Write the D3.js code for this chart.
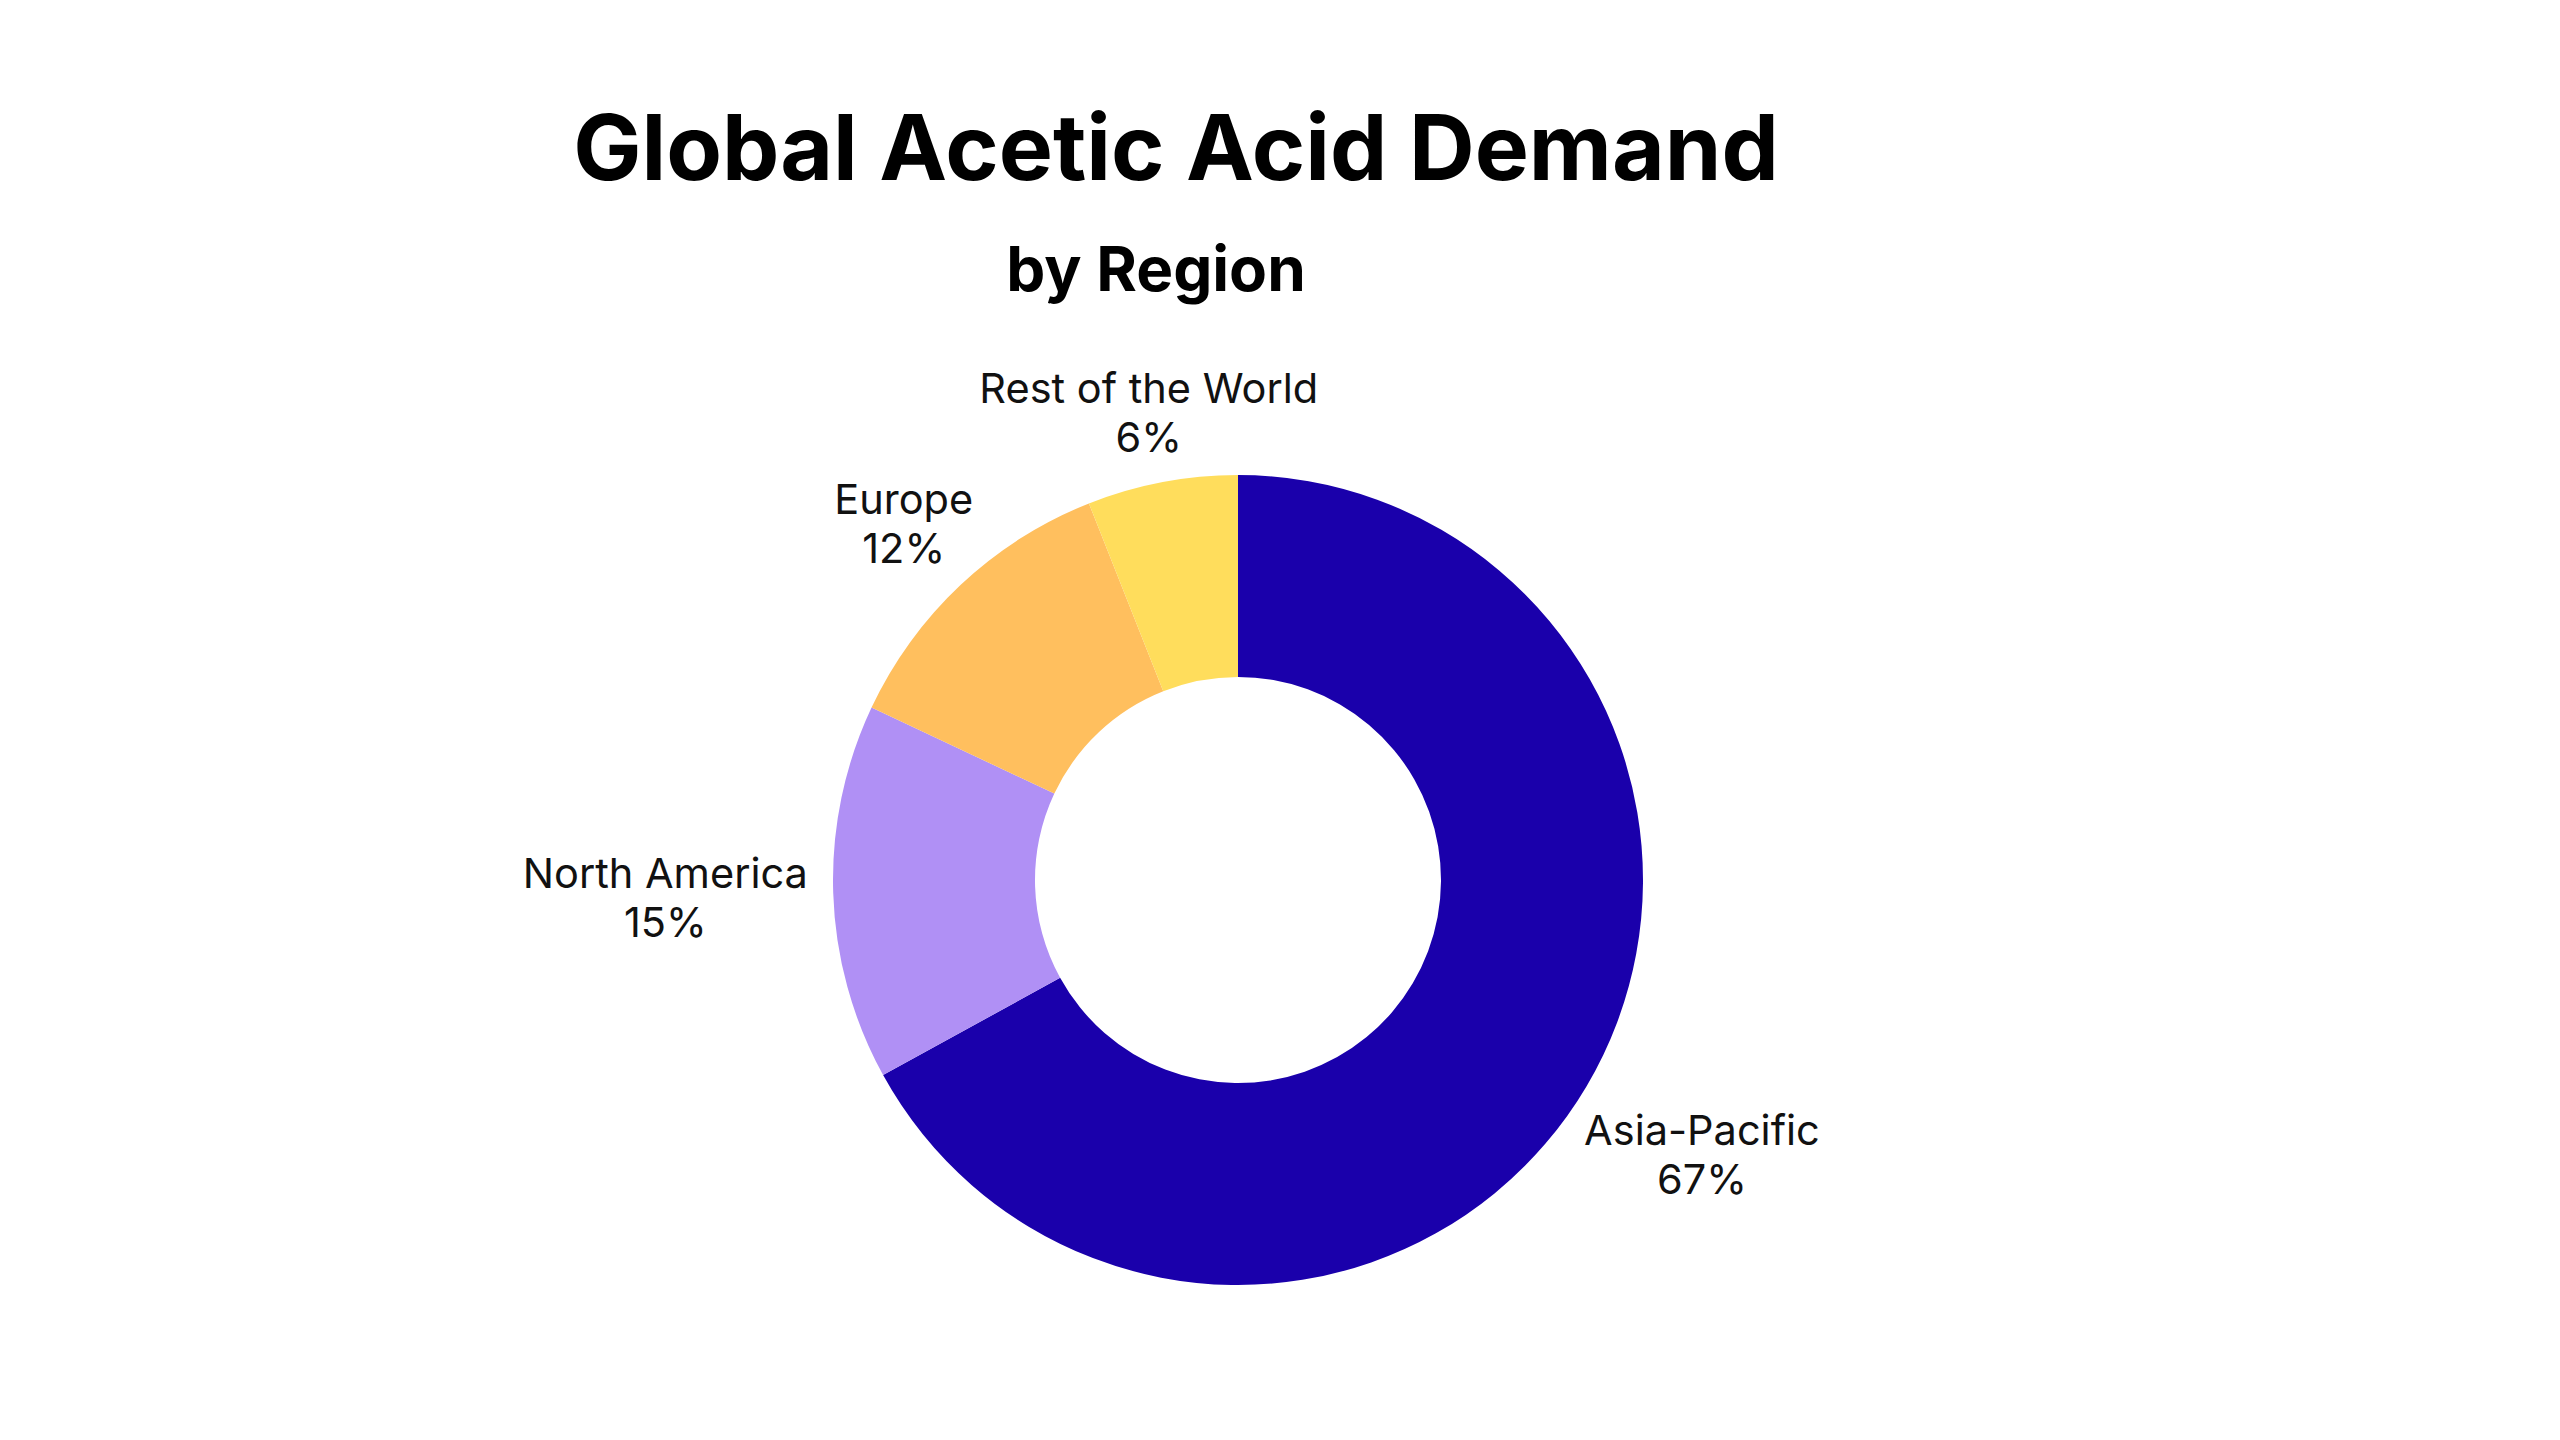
<!DOCTYPE html>
<html>
<head>
<meta charset="utf-8">
<script src="https://cdn.jsdelivr.net/npm/d3@7"></script>
<style>
  html, body { margin: 0; padding: 0; background: #fff; }
  svg { display: block; font-family: Inter, "Noto Sans", sans-serif; }
</style>
</head>
<body>
<div id="chart"></div>
<script>
// Global acetic acid demand share by region
const regions = ["Asia-Pacific", "North America", "Europe", "Rest of the World"];
const shares = [67, 15, 12, 6];
const colors = ["#1a00ab", "#b090f5", "#ffbf5e", "#ffdd5c"];

const width = 2560;
const height = 1440;

const svg = d3.select("#chart")
    .append("svg")
    .attr("width", width)
    .attr("height", height);

svg.append("text")
    .attr("x", 1176)
    .attr("y", 180)
    .attr("text-anchor", "middle")
    .style("font-size", "91px")
    .style("font-weight", 700)
    .text("Global Acetic Acid Demand");

svg.append("text")
    .attr("x", 1156)
    .attr("y", 291)
    .attr("text-anchor", "middle")
    .style("font-size", "62px")
    .style("font-weight", 700)
    .text("by Region");

const cx = 1238, cy = 880;
const outerR = 405, innerR = 203;

const data = regions.map((r, i) => ({ region: r, value: shares[i], color: colors[i] }));

const pie = d3.pie()
    .sort(null)
    .value(d => d.value);

const arc = d3.arc()
    .innerRadius(innerR)
    .outerRadius(outerR);

const g = svg.append("g").attr("transform", `translate(${cx},${cy})`);

const arcs = pie(data);

g.selectAll("path")
    .data(arcs)
    .join("path")
    .attr("d", arc)
    .attr("fill", d => d.data.color);

// outside labels: box pushed out from the rim along the slice's mid angle
const labelGap = 430;
const lineH = 49;

const labels = g.selectAll("text.label")
    .data(arcs)
    .join("text")
    .attr("class", "label")
    .attr("text-anchor", "middle")
    .style("font-size", "41.5px")
    .style("fill", "#111");

labels.each(function (d) {
    const t = d3.select(this);
    t.append("tspan").attr("x", 0).attr("dy", 0).text(d.data.region);
    t.append("tspan").attr("x", 0).attr("dy", lineH).text(d.data.value + "%");
});

labels.attr("transform", function (d) {
    const box = this.getBBox();
    const mid = (d.startAngle + d.endAngle) / 2;
    const sx = Math.sin(mid), sy = -Math.cos(mid);
    const hw = box.width / 2, hh = box.height / 2;
    const dist = labelGap + hw * Math.abs(sx) + 0.3 * hh * Math.abs(sy);
    const bx = box.x + hw, by = box.y + hh;
    return `translate(${sx * dist - bx},${sy * dist - by})`;
});
</script>
</body>
</html>
